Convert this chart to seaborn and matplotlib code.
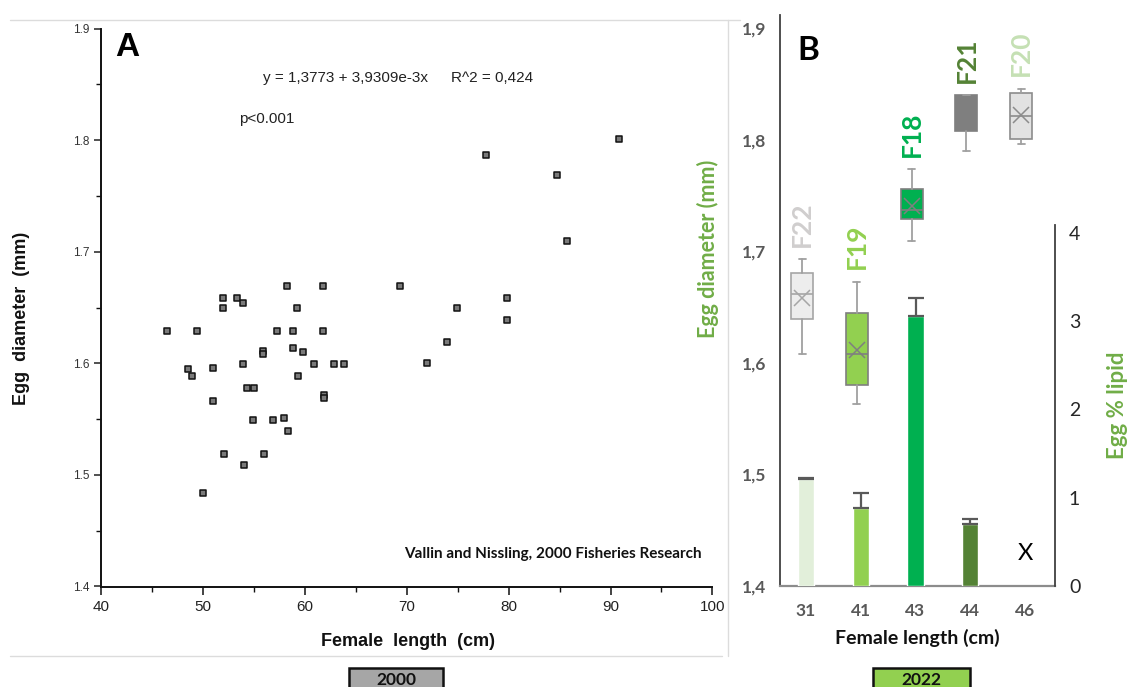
import numpy as np
import pandas as pd
import matplotlib
matplotlib.use('Agg')
import matplotlib.pyplot as plt
from matplotlib.ticker import MultipleLocator
from matplotlib.patches import Rectangle
from matplotlib.lines import Line2D
import seaborn as sns

W, H = 1130, 687

# --- panel A: Vallin & Nissling 2000
length_2000 = [46.45, 49.39, 48.51, 48.90, 50.01, 51.02, 51.02, 51.94, 51.94, 52.07,
               53.32, 53.91, 53.96, 54.36, 55.01, 54.95, 54.03, 55.93, 55.93, 56.00,
               56.91, 57.30, 57.96, 58.28, 58.38, 58.87, 58.87, 59.26, 59.36, 59.85,
               60.90, 61.82, 61.82, 61.88, 61.88, 62.87, 63.85, 69.34, 71.99, 73.95,
               74.94, 79.84, 79.84, 77.75, 84.72, 85.76, 90.83]
diam_2000 = [1.629, 1.629, 1.595, 1.589, 1.484, 1.596, 1.566, 1.659, 1.650, 1.519,
             1.659, 1.654, 1.599, 1.578, 1.578, 1.549, 1.509, 1.611, 1.608, 1.519,
             1.549, 1.629, 1.551, 1.669, 1.539, 1.629, 1.614, 1.650, 1.589, 1.610,
             1.599, 1.669, 1.629, 1.572, 1.569, 1.599, 1.599, 1.669, 1.600, 1.619,
             1.650, 1.659, 1.639, 1.787, 1.769, 1.710, 1.801]

# --- panel B: 2022 females
lengths_2022 = ['31', '41', '43', '44', '46']
female_ids = ['F22', 'F19', 'F18', 'F21', 'F20']
box_whislo = [1.608, 1.563, 1.709, 1.790, 1.796]
box_q1 = [1.639, 1.580, 1.729, 1.808, 1.801]
box_med = [1.662, 1.608, 1.737, 1.825, 1.821]
box_mean = [1.658, 1.612, 1.741, 1.824, 1.822]
box_q3 = [1.681, 1.645, 1.756, 1.840, 1.842]
box_whishi = [1.693, 1.673, 1.774, 1.840, 1.846]

lipid_lengths = ['31', '41', '43', '44']
lipid_pct = [1.21, 0.885, 3.056, 0.70]
lipid_err = [0.01, 0.17, 0.21, 0.06]

box_fill = ['#ededed', '#92d050', '#00b050', '#7f7f7f', '#e2e2e2']
box_edge = ['#a6a6a6', '#7f7f7f', '#7f7f7f', '#7f7f7f', '#8c8c8c']
label_colors = ['#d0cece', '#92d050', '#00b050', '#548235', '#c5e0b4']
bar_colors = {'31': '#e2efda', '41': '#92d050', '43': '#00b050', '44': '#548235'}

sns.set_theme(style='ticks')
plt.rcParams['font.family'] = ['Liberation Sans', 'DejaVu Sans']

fig = plt.figure(figsize=(W / 100, H / 100), dpi=100)


def px(x, y):
    return x / W, 1 - y / H


# ---------------- panel A
axA = fig.add_axes([101 / W, 1 - 586.5 / H, 611.4 / W, 557.8 / H])
df_a = pd.DataFrame({'length': length_2000, 'diam': diam_2000})
sns.scatterplot(data=df_a, x='length', y='diam', marker='s', s=22,
                color='#7a7a7a', edgecolor='#111111', linewidth=1.1, ax=axA)
axA.set_xlim(40, 100)
axA.set_ylim(1.4, 1.9)
axA.xaxis.set_major_locator(MultipleLocator(10))
axA.xaxis.set_minor_locator(MultipleLocator(5))
axA.yaxis.set_major_locator(MultipleLocator(0.1))
axA.yaxis.set_minor_locator(MultipleLocator(0.05))
axA.set_yticklabels([f'{v:.1f}' for v in axA.get_yticks()])
axA.set_xlabel('')
axA.set_ylabel('')
for s in ['top', 'right']:
    axA.spines[s].set_visible(False)
for s in ['left', 'bottom']:
    axA.spines[s].set_color('#111111')
    axA.spines[s].set_linewidth(1.4)
axA.tick_params(axis='x', which='major', length=6, width=1.2, labelsize=11,
                colors='#222222', pad=4)
axA.tick_params(axis='y', which='major', length=5, width=1.2, labelsize=8.5,
                colors='#333333', pad=3)
axA.tick_params(which='minor', length=3.5, width=1.0, color='#111111')

fig.text(*px(22, 318), 'Egg  diameter  (mm)', rotation=90, ha='center', va='center',
         fontsize=13, fontweight='bold', color='#111111')
fig.text(*px(408, 642), 'Female  length  (cm)', ha='center', va='center',
         fontsize=13, fontweight='bold', color='#111111')
fig.text(*px(127, 47), 'A', ha='center', va='center', fontsize=24,
         fontweight='bold', color='black')
fig.text(*px(263, 78), 'y = 1,3773 + 3,9309e-3x', ha='left', va='center',
         fontsize=11, color='#222222')
fig.text(*px(451, 78), 'R^2 = 0,424', ha='left', va='center',
         fontsize=11, color='#222222')
fig.text(*px(239, 119), 'p<0.001', ha='left', va='center',
         fontsize=11, color='#222222')
fig.text(*px(702, 554), 'Vallin and Nissling, 2000 Fisheries Research', ha='right',
         va='center', fontsize=11, fontweight='bold', color='#111111', family='Lato')

# ---------------- panel B
axB = fig.add_axes([780 / W, 1 - 586 / H, 275 / W, 571 / H])
axL = axB.twinx()

sns.barplot(x=lipid_lengths, y=lipid_pct, hue=lipid_lengths, palette=bar_colors,
            order=lengths_2022, width=0.3, saturation=1, legend=False, ax=axL)
axL.errorbar(np.arange(len(lipid_pct)), lipid_pct,
             yerr=[np.zeros(len(lipid_err)), lipid_err], fmt='none',
             ecolor='#595959', elinewidth=1.6, capsize=6, capthick=1.6)
axL.text(lengths_2022.index('46'), 0.37, 'X', ha='center', va='center',
         fontsize=17, color='black', family='Lato')

stats = []
for i in range(len(female_ids)):
    stats.append(dict(whislo=box_whislo[i], q1=box_q1[i], med=box_med[i],
                      mean=box_mean[i], q3=box_q3[i], whishi=box_whishi[i],
                      fliers=[], label=female_ids[i]))
box_pos = np.arange(len(female_ids)) - 0.07
bp = axB.bxp(stats, positions=box_pos, widths=0.4, capwidths=0.13,
             patch_artist=True, showmeans=True, showfliers=False,
             manage_ticks=False)
for i in range(len(female_ids)):
    bp['boxes'][i].set_facecolor(box_fill[i])
    bp['boxes'][i].set_edgecolor(box_edge[i])
    bp['boxes'][i].set_linewidth(1.2)
    bp['medians'][i].set_color(box_edge[i])
    bp['medians'][i].set_linewidth(1.2)
    bp['means'][i].set_marker('x')
    bp['means'][i].set_markeredgecolor(box_edge[i])
    bp['means'][i].set_markersize(11)
    bp['means'][i].set_markeredgewidth(1.1)
    for ln in bp['whiskers'][2 * i:2 * i + 2] + bp['caps'][2 * i:2 * i + 2]:
        ln.set_color('#a0a0a0')
        ln.set_linewidth(1.3)
    axB.text(box_pos[i], box_whishi[i] + 0.011, female_ids[i], rotation=90,
             ha='center', va='bottom', fontsize=19, fontweight='bold',
             color=label_colors[i], family='Lato')

axB.set_xlim(-0.475, 4.548)
axB.set_ylim(1.4, 1.912)
axL.set_ylim(0, (586 - 15) / 88.25)
axB.set_xticks(range(len(lengths_2022)))
axB.set_xticklabels(lengths_2022)
axB.set_yticks([1.4, 1.5, 1.6, 1.7, 1.8, 1.9])
axB.set_yticklabels(['1,4', '1,5', '1,6', '1,7', '1,8', '1,9'])
axL.set_yticks([0, 1, 2, 3, 4])
axL.set_yticklabels(['0', '1', '2', '3', '4'])
axB.set_xlabel('')
axB.set_ylabel('')
axL.set_xlabel('')
axL.set_ylabel('')

for s in ['top', 'right']:
    axB.spines[s].set_visible(False)
for s in ['top', 'left', 'bottom']:
    axL.spines[s].set_visible(False)
axB.spines['left'].set_color('#404040')
axB.spines['left'].set_linewidth(1.3)
axB.spines['bottom'].set_color('#8c8c8c')
axB.spines['bottom'].set_linewidth(1.6)
axL.spines['right'].set_color('#404040')
axL.spines['right'].set_linewidth(1.3)
axL.spines['right'].set_bounds(0, 4.09)

for lab in axB.get_yticklabels() + axB.get_xticklabels():
    lab.set_fontfamily('Lato')
    lab.set_fontweight('bold')
    lab.set_color('#595959')
    lab.set_fontsize(12.5)
for lab in axL.get_yticklabels():
    lab.set_fontfamily('Lato')
    lab.set_color('#262626')
    lab.set_fontsize(14)
axB.tick_params(axis='y', length=0, pad=10)
axB.tick_params(axis='x', length=0, pad=12)
axL.tick_params(axis='y', length=0, pad=10)

fig.text(*px(917, 638), 'Female length (cm)', ha='center', va='center',
         fontsize=14, fontweight='bold', color='#111111', family='Lato')
fig.text(*px(708, 249), 'Egg diameter (mm)', rotation=90, ha='center', va='center',
         fontsize=15.5, fontweight='bold', color='#70ad47', family='Lato')
fig.text(*px(1117, 405), 'Egg % lipid', rotation=90, ha='center', va='center',
         fontsize=16, fontweight='bold', color='#70ad47', family='Lato')
fig.text(*px(808, 50), 'B', ha='center', va='center', fontsize=24,
         fontweight='bold', color='black', family='Lato')

# frame lines of the composed figure
fig.add_artist(Line2D([10 / W, 740 / W], [1 - 20 / H] * 2, color='#dcdcdc', lw=1))
fig.add_artist(Line2D([10 / W, 722 / W], [1 - 656 / H] * 2, color='#dcdcdc', lw=1))
fig.add_artist(Line2D([728 / W] * 2, [1 - 20 / H, 1 - 656 / H], color='#dcdcdc', lw=1))

# year tags
for x0, w0, fc, txt in [(349, 94, '#a6a6a6', '2000'), (873, 97, '#92d050', '2022')]:
    fig.add_artist(Rectangle((x0 / W, -10 / H), w0 / W, (687 - 668 + 10) / H,
                             transform=fig.transFigure, facecolor=fc,
                             edgecolor='#111111', linewidth=1.8))
    fig.text((x0 + w0 / 2) / W, 1 - 680 / H, txt, ha='center', va='center',
             fontsize=12.5, fontweight='bold', color='#111111', family='Lato')

fig.savefig('out.png', dpi=100)
